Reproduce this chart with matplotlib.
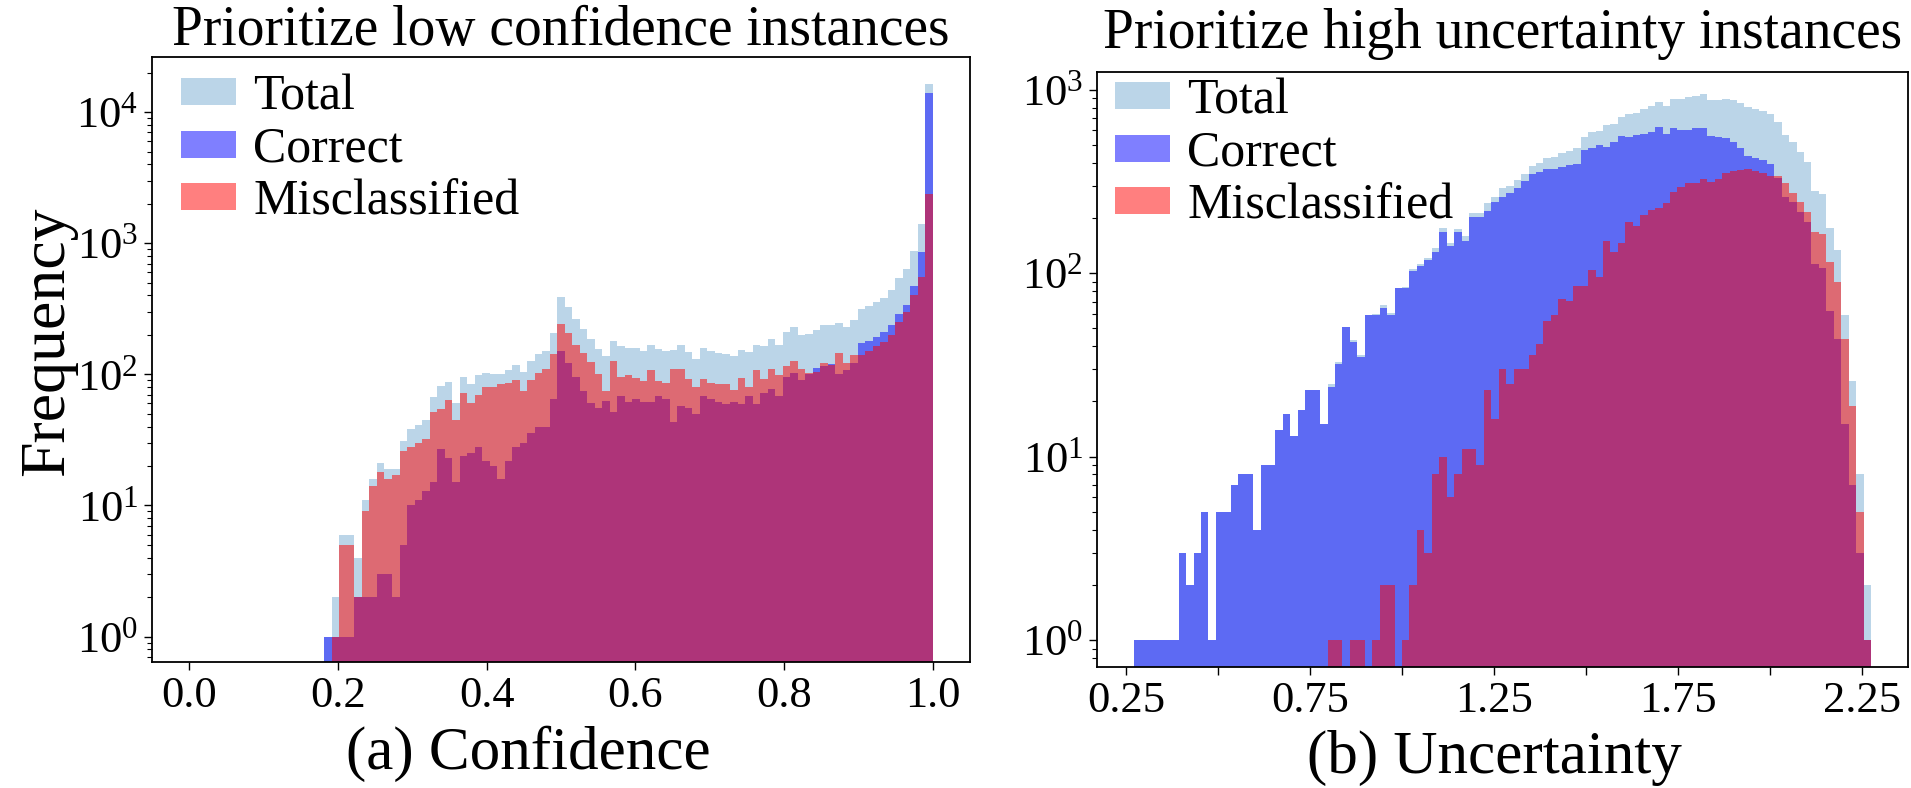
import numpy as np
import matplotlib
matplotlib.use("Agg")
import matplotlib.pyplot as plt

plt.rcParams['font.family'] = ['Liberation Serif', 'DejaVu Serif']
plt.rcParams['mathtext.fontset'] = 'stix'

# ---------------- data (counts per bin) ----------------
# Confidence: 99 equal bins on [0, 1]; first non-empty bin is bin 18
conf_first_bin = 18
conf_n_bins = 99
conf_correct = [1, 1, 1, 1, 2, 2, 2, 3, 3, 2,
                5, 10, 11, 13, 15, 27, 23, 15, 24, 25,
                28, 22, 20, 16, 22, 28, 30, 36, 40, 40,
                65, 150, 122, 96, 75, 60, 55, 63, 52, 68,
                61, 65, 61, 61, 68, 65, 43, 57, 55, 50,
                68, 65, 61, 59, 61, 59, 68, 59, 72, 77,
                68, 96, 103, 90, 100, 112, 115, 120, 100, 108,
                121, 173, 180, 192, 210, 239, 290, 340, 470, 860,
                14100]
conf_misclassified = [0, 1, 5, 5, 2, 9, 14, 18, 16, 17,
                      26, 28, 30, 32, 52, 54, 64, 45, 72, 60,
                      70, 80, 80, 84, 86, 90, 75, 90, 102, 110,
                      142, 240, 205, 168, 145, 125, 100, 75, 126, 96,
                      99, 93, 89, 107, 89, 86, 110, 110, 92, 80,
                      92, 86, 85, 84, 76, 93, 80, 108, 92, 110,
                      99, 115, 127, 110, 102, 105, 121, 118, 146, 121,
                      140, 140, 150, 165, 175, 200, 250, 300, 400, 550,
                      2390]
conf_total = [1, 2, 6, 6, 4, 11, 16, 21, 19, 19,
              31, 38, 41, 45, 67, 81, 87, 60, 96, 85,
              98, 102, 100, 100, 108, 118, 105, 126, 142, 150,
              207, 390, 327, 264, 220, 185, 155, 138, 178, 164,
              160, 158, 150, 168, 157, 151, 153, 167, 147, 130,
              160, 151, 146, 143, 137, 152, 148, 167, 164, 187,
              167, 211, 230, 200, 202, 217, 236, 238, 246, 229,
              261, 313, 330, 357, 385, 439, 540, 640, 870, 1410,
              16490]

# Uncertainty: 99 equal bins between the observed min and max
unc_min, unc_max = 0.2706, 2.2755
unc_correct = [1, 1, 1, 1, 1, 1, 3, 2, 3, 5,
               1, 5, 5, 7, 8, 8, 4, 9, 9, 14,
               17, 13, 18, 23, 23, 15, 24, 32, 51, 42,
               35, 59, 59, 65, 59, 83, 83, 103, 109, 118,
               130, 167, 140, 167, 149, 203, 203, 219, 243, 260,
               274, 292, 317, 349, 358, 372, 372, 380, 390, 395,
               469, 481, 500, 490, 520, 560, 550, 567, 575, 590,
               630, 573, 616, 600, 600, 616, 616, 560, 555, 545,
               520, 481, 433, 425, 414, 394, 332, 259, 245, 215,
               190, 112, 107, 62, 44, 15, 7, 3, 1]
unc_misclassified = [0, 0, 0, 0, 0, 0, 0, 0, 0, 0,
                     0, 0, 0, 0, 0, 0, 0, 0, 0, 0,
                     0, 0, 0, 0, 0, 0, 1, 1, 0, 1,
                     1, 0, 1, 2, 2, 0, 1, 2, 4, 3,
                     8, 10, 6, 8, 11, 11, 9, 23, 16, 30,
                     25, 30, 30, 36, 41, 55, 59, 72, 71, 85,
                     85, 104, 95, 149, 130, 147, 190, 180, 208, 222,
                     228, 241, 278, 296, 310, 310, 328, 316, 328, 350,
                     362, 367, 372, 360, 350, 340, 337, 309, 273, 245,
                     215, 167, 163, 115, 90, 44, 19, 5, 1]
unc_total = [1, 1, 1, 1, 1, 1, 3, 2, 3, 5,
             1, 5, 5, 7, 8, 8, 4, 9, 9, 14,
             17, 13, 18, 23, 23, 15, 25, 33, 51, 43,
             36, 59, 60, 67, 61, 83, 84, 105, 113, 121,
             138, 177, 146, 175, 160, 214, 212, 242, 259, 290,
             299, 322, 347, 385, 399, 427, 431, 452, 461, 480,
             554, 585, 595, 639, 650, 707, 740, 747, 783, 812,
             858, 814, 894, 896, 910, 926, 944, 876, 883, 895,
             882, 848, 805, 785, 764, 734, 669, 568, 518, 460,
             405, 279, 270, 177, 134, 59, 26, 8, 2]

conf_ticks = [0.0, 0.2, 0.4, 0.6, 0.8, 1.0]
conf_ticklabels = ['0.0', '0.2', '0.4', '0.6', '0.8', '1.0']
unc_ticks = [0.25, 0.5, 0.75, 1.0, 1.25, 1.5, 1.75, 2.0, 2.25]
unc_ticklabels = ['0.25', '', '0.75', '', '1.25', '', '1.75', '', '2.25']

series_labels = ['Total', 'Correct', 'Misclassified']

# ---------------- figure ----------------
W, H = 1911, 788
fig = plt.figure(figsize=(W / 100, H / 100), dpi=100)
ax1 = fig.add_axes([152 / W, 1 - 662 / H, (970 - 152) / W, (662 - 57) / H])
ax2 = fig.add_axes([1097 / W, 1 - 667 / H, (1908 - 1097) / W, (667 - 72) / H])

conf_edges = np.linspace(0.0, 1.0, conf_n_bins + 1)[conf_first_bin:]
unc_edges = np.linspace(unc_min, unc_max, len(unc_total) + 1)

styles = [dict(color='tab:blue', alpha=0.3),
          dict(color='blue', alpha=0.5),
          dict(color='red', alpha=0.5)]


def draw(ax, edges, series, anchor):
    centers = 0.5 * (edges[:-1] + edges[1:])
    for vals, lab, st in zip(series, series_labels, styles):
        ax.hist(centers, bins=edges, weights=np.asarray(vals, float),
                log=True, label=lab, **st)
    ax.legend(loc='upper left', bbox_to_anchor=anchor, frameon=False,
              fontsize=36, handlelength=1.1, handleheight=0.45,
              handletextpad=0.35, labelspacing=0.12, borderaxespad=0.0,
              borderpad=0.0)
    ax.tick_params(axis='both', which='major', labelsize=32, length=6,
                   width=1.0, pad=4)
    ax.tick_params(axis='y', which='minor', length=3.5, width=0.8)
    for sp in ax.spines.values():
        sp.set_linewidth(1.3)


draw(ax1, conf_edges, [conf_total, conf_correct, conf_misclassified],
     (0.035, 0.972))
draw(ax2, unc_edges, [unc_total, unc_correct, unc_misclassified],
     (0.022, 0.99))

ax1.set_xlim(-0.05, 1.05)
ax1.set_ylim(0.64, 26300)
ax1.set_xticks(conf_ticks)
ax1.set_xticklabels(conf_ticklabels)
ax1.set_title('Prioritize low confidence instances', fontsize=40, pad=6)
ax1.set_xlabel('(a) Confidence', fontsize=44)
ax1.xaxis.set_label_coords(0.46, -0.105, transform=ax1.transAxes)
ax1.xaxis.label.set_va('top')
ax1.set_ylabel('Frequency', fontsize=46)
ax1.yaxis.set_label_coords(-0.092, 0.53, transform=ax1.transAxes)

ax2.set_xlim(0.170, 2.376)
ax2.set_ylim(0.714, 1250)
ax2.set_xticks(unc_ticks)
ax2.set_xticklabels(unc_ticklabels)
ax2.set_title('Prioritize high uncertainty instances', fontsize=40, pad=17)
ax2.set_xlabel('(b) Uncertainty', fontsize=44)
ax2.xaxis.set_label_coords(0.49, -0.105, transform=ax2.transAxes)
ax2.xaxis.label.set_va('top')

fig.savefig('out.png', dpi=100)
